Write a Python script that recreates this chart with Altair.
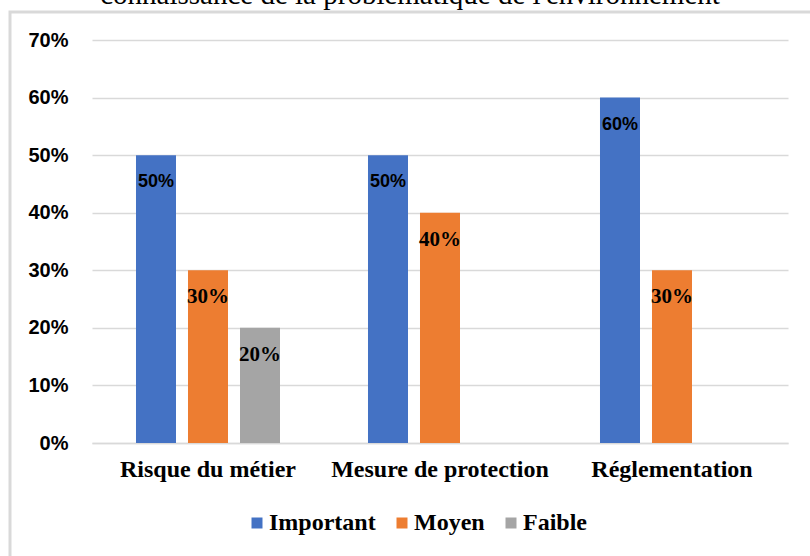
import altair as alt
import pandas as pd

categories = ["Risque du métier", "Mesure de protection", "Réglementation"]
series = ["Important", "Moyen", "Faible"]
important = [0.5, 0.5, 0.6]
moyen = [0.3, 0.4, 0.3]
faible = [0.2, None, None]
colors = ["#4472C4", "#ED7D31", "#A5A5A5"]
title_text = "connaissance de la problématique de l'environnement"
y_ticks = [0, 0.1, 0.2, 0.3, 0.4, 0.5, 0.6, 0.7]

rows = []
for s, vals in zip(series, [important, moyen, faible]):
    for c, v in zip(categories, vals):
        if v is not None:
            rows.append({"cat": c, "serie": s, "val": v})
df = pd.DataFrame(rows)

x_enc = alt.X("cat:N", sort=categories, title=None,
              scale=alt.Scale(paddingInner=0, paddingOuter=0),
              axis=alt.Axis(labelAngle=0, labelFont="Liberation Serif", labelFontWeight="bold",
                            labelFontSize=24, labelColor="#000000", labelPadding=14,
                            labelLimit=0,
                            ticks=False, domain=True, domainColor="#d9d9d9", domainWidth=1.5,
                            grid=False))
xo_enc = alt.XOffset("serie:N", sort=series,
                     scale=alt.Scale(domain=series, paddingInner=0.2308, paddingOuter=0.846))
y_enc = alt.Y("val:Q", title=None,
              scale=alt.Scale(domain=[0, 0.7], nice=False),
              axis=alt.Axis(values=y_ticks, format=".0%", labelFont="Liberation Sans",
                            labelFontWeight="bold", labelFontSize=20, labelColor="#000000",
                            labelPadding=24, ticks=False, domain=False,
                            gridColor="#d9d9d9", gridWidth=1.5))

base = alt.Chart(df)

bars = base.mark_bar().encode(
    x=x_enc, xOffset=xo_enc, y=y_enc,
    color=alt.Color("serie:N", sort=series,
                    scale=alt.Scale(domain=series, range=colors),
                    legend=alt.Legend(title=None, orient="none", legendX=153, legendY=471,
                                      direction="horizontal", symbolType="square",
                                      symbolSize=121, symbolStrokeWidth=0, labelOffset=0,
                                      columnPadding=14, labelFont="Liberation Serif",
                                      labelFontWeight="bold", labelFontSize=24,
                                      labelColor="#000000", padding=0)),
)

labels_sans = base.transform_filter(alt.datum.serie == "Important").mark_text(
    baseline="middle", dy=27, font="Liberation Sans", fontWeight="bold", fontSize=18,
    color="#000000"
).encode(x=x_enc, xOffset=xo_enc, y=y_enc, text=alt.Text("val:Q", format=".0%"))

labels_serif = base.transform_filter(alt.datum.serie != "Important").mark_text(
    baseline="middle", dy=27, font="Liberation Serif", fontWeight="bold", fontSize=21,
    color="#000000"
).encode(x=x_enc, xOffset=xo_enc, y=y_enc, text=alt.Text("val:Q", format=".0%"))

frame = alt.Chart(pd.DataFrame({"k": [0]})).mark_rect(
    fill=None, stroke="#d9d9d9", strokeWidth=3
).encode(x=alt.value(-82), x2=alt.value(760), y=alt.value(-28), y2=alt.value(540))

title = alt.Chart(pd.DataFrame({"t": [title_text]})).mark_text(
    font="Liberation Serif", fontSize=29, baseline="alphabetic", align="center",
    color="#000000"
).encode(x=alt.value(318), y=alt.value(-36), text="t:N")

chart = alt.layer(frame, title, bars, labels_sans, labels_serif).properties(
    width=696, height=403,
    padding={"left": 92, "top": 40, "right": 22, "bottom": 113},
    autosize=alt.AutoSizeParams(type="none"),
    background="#ffffff",
).configure(
    view=alt.ViewConfig(strokeWidth=0),
)

chart.save("out.html", embed_options={"renderer": "svg", "actions": False})
